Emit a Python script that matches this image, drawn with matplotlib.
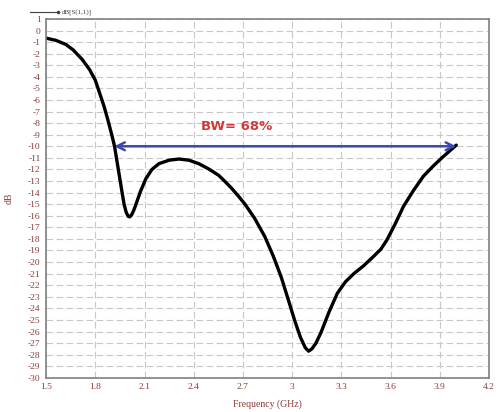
import matplotlib.pyplot as plt

plt.rcParams['axes.unicode_minus'] = False

# S11
freq = [1.50, 1.56, 1.62, 1.665, 1.72, 1.766, 1.80, 1.826, 1.852, 1.876, 1.90, 1.917,
        1.932, 1.947, 1.962, 1.975, 1.988, 2.000, 2.010, 2.022, 2.035, 2.048, 2.075,
        2.108, 2.145, 2.188, 2.25, 2.309, 2.37, 2.43, 2.49, 2.551, 2.591, 2.632, 2.672,
        2.712, 2.77, 2.833, 2.885, 2.933, 2.975, 3.014, 3.050, 3.080, 3.100, 3.120,
        3.145, 3.175, 3.225, 3.275, 3.325, 3.376, 3.437, 3.497, 3.54, 3.577, 3.628,
        3.678, 3.74, 3.799, 3.86, 3.92, 3.96, 4.00]
s11 = [-0.66, -0.85, -1.2, -1.68, -2.5, -3.4, -4.3, -5.4, -6.5, -7.7, -9.0, -10.0,
       -11.3, -12.6, -13.9, -15.0, -15.7, -16.05, -16.1, -15.9, -15.5, -15.0, -13.9,
       -12.8, -12.0, -11.5, -11.2, -11.1, -11.2, -11.5, -11.95, -12.5, -13.05, -13.65,
       -14.3, -15.0, -16.2, -17.8, -19.5, -21.3, -23.2, -25.0, -26.5, -27.4, -27.7,
       -27.5, -27.0, -26.1, -24.3, -22.7, -21.7, -21.0, -20.3, -19.5, -18.9, -18.1,
       -16.7, -15.2, -13.8, -12.6, -11.7, -10.9, -10.4, -9.9]

bw_start = 1.915
bw_stop = 4.0
bw_level = -10

x_ticks = [1.5, 1.8, 2.1, 2.4, 2.7, 3.0, 3.3, 3.6, 3.9, 4.2]
x_labels = ['1.5', '1.8', '2.1', '2.4', '2.7', '3', '3.3', '3.6', '3.9', '4.2']
y_ticks = list(range(-30, 2))

tick_color = '#8b3a3a'

fig = plt.figure(figsize=(4.96, 4.12), dpi=100)
ax = fig.add_axes([0.093, 0.083, 0.893, 0.871])

ax.plot(freq, s11, color='black', lw=2.4, solid_capstyle='round', solid_joinstyle='round')

ax.annotate('', xy=(bw_start, bw_level), xytext=(bw_stop, bw_level),
            arrowprops=dict(arrowstyle='<->', color='#3a48b0', lw=1.8,
                            mutation_scale=14, shrinkA=0, shrinkB=0))
ax.text(2.66, -8.3, 'BW= 68%', color='#d03a3a', fontsize=9.5, fontweight='bold',
        ha='center', va='center')

ax.set_xlim(1.5, 4.2)
ax.set_ylim(-30, 1)
ax.set_xticks(x_ticks)
ax.set_xticklabels(x_labels)
ax.set_yticks(y_ticks)
ax.tick_params(axis='both', length=0, pad=4, labelsize=6.8, labelcolor=tick_color)
for lab in ax.get_xticklabels() + ax.get_yticklabels():
    lab.set_family('Liberation Serif')

ax.grid(True, color='#c8c8c8', linestyle=(0, (6, 3)), lw=0.8)
for sp in ax.spines.values():
    sp.set_color('#808080')
    sp.set_linewidth(1.2)

ax.set_xlabel('Frequency (GHz)', color=tick_color, fontsize=7, family='Liberation Serif',
              labelpad=6)
ax.set_ylabel('dB', color=tick_color, fontsize=7, family='Liberation Serif', labelpad=10)

# legend entry above the frame
fig.lines.append(plt.Line2D([0.060, 0.117], [0.971, 0.971], color='#404040', lw=0.8,
                            marker='.', markevery=[1], markersize=3,
                            transform=fig.transFigure))
fig.text(0.125, 0.971, 'dB[S(1,1)]', fontsize=5, color='#404040', va='center',
         family='Liberation Serif')

fig.savefig('out.png', dpi=100)
